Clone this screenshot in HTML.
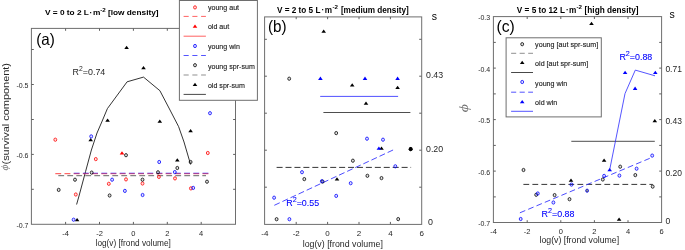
<!DOCTYPE html>
<html lang="en"><head><meta charset="utf-8"><title>Figure</title>
<style>
html,body{margin:0;padding:0;background:#fff}
body{width:685px;height:250px;overflow:hidden}
svg{display:block;filter:blur(0.3px);font-family:"Liberation Sans",sans-serif}
</style></head><body>
<svg width="685" height="250" viewBox="0 0 685 250">
<rect x="0" y="0" width="685" height="250" fill="#ffffff"/>
<rect x="31.4" y="28.4" width="204.1" height="195.9" fill="none" stroke="#6e6e6e" stroke-width="1.0"/>
<line x1="65.6" y1="224.3" x2="65.6" y2="221.9" stroke="#606060" stroke-width="1.0"/>
<line x1="65.6" y1="28.4" x2="65.6" y2="30.8" stroke="#606060" stroke-width="1.0"/>
<line x1="99.5" y1="224.3" x2="99.5" y2="221.9" stroke="#606060" stroke-width="1.0"/>
<line x1="99.5" y1="28.4" x2="99.5" y2="30.8" stroke="#606060" stroke-width="1.0"/>
<line x1="133.4" y1="224.3" x2="133.4" y2="221.9" stroke="#606060" stroke-width="1.0"/>
<line x1="133.4" y1="28.4" x2="133.4" y2="30.8" stroke="#606060" stroke-width="1.0"/>
<line x1="167.3" y1="224.3" x2="167.3" y2="221.9" stroke="#606060" stroke-width="1.0"/>
<line x1="167.3" y1="28.4" x2="167.3" y2="30.8" stroke="#606060" stroke-width="1.0"/>
<line x1="201.2" y1="224.3" x2="201.2" y2="221.9" stroke="#606060" stroke-width="1.0"/>
<line x1="201.2" y1="28.4" x2="201.2" y2="30.8" stroke="#606060" stroke-width="1.0"/>
<line x1="31.4" y1="49.5" x2="33.8" y2="49.5" stroke="#606060" stroke-width="1.0"/>
<line x1="235.5" y1="49.5" x2="233.1" y2="49.5" stroke="#606060" stroke-width="1.0"/>
<line x1="31.4" y1="84.5" x2="33.8" y2="84.5" stroke="#606060" stroke-width="1.0"/>
<line x1="235.5" y1="84.5" x2="233.1" y2="84.5" stroke="#606060" stroke-width="1.0"/>
<line x1="31.4" y1="119.5" x2="33.8" y2="119.5" stroke="#606060" stroke-width="1.0"/>
<line x1="235.5" y1="119.5" x2="233.1" y2="119.5" stroke="#606060" stroke-width="1.0"/>
<line x1="31.4" y1="154.4" x2="33.8" y2="154.4" stroke="#606060" stroke-width="1.0"/>
<line x1="235.5" y1="154.4" x2="233.1" y2="154.4" stroke="#606060" stroke-width="1.0"/>
<line x1="31.4" y1="189.3" x2="33.8" y2="189.3" stroke="#606060" stroke-width="1.0"/>
<line x1="235.5" y1="189.3" x2="233.1" y2="189.3" stroke="#606060" stroke-width="1.0"/>
<text x="65.6" y="235.6" font-size="7.5" text-anchor="middle" fill="#262626" font-weight="normal">-4</text>
<text x="99.5" y="235.6" font-size="7.5" text-anchor="middle" fill="#262626" font-weight="normal">-2</text>
<text x="133.4" y="235.6" font-size="7.5" text-anchor="middle" fill="#262626" font-weight="normal">0</text>
<text x="167.3" y="235.6" font-size="7.5" text-anchor="middle" fill="#262626" font-weight="normal">2</text>
<text x="201.2" y="235.6" font-size="7.5" text-anchor="middle" fill="#262626" font-weight="normal">4</text>
<text x="28.5" y="88.0" font-size="7" text-anchor="end" fill="#262626" font-weight="normal">-0.5</text>
<text x="28.5" y="157.9" font-size="7" text-anchor="end" fill="#262626" font-weight="normal">-0.6</text>
<text x="28.5" y="227.8" font-size="7" text-anchor="end" fill="#262626" font-weight="normal">-0.7</text>
<text x="133.2" y="246.3" font-size="8.25" text-anchor="middle" fill="#262626" font-weight="normal">log(v) [frond volume]</text>
<text transform="translate(0,15.3) scale(1,0.92)" y="0" font-size="8.3" font-weight="bold" fill="#000000"><tspan x="44.9">V = 0 to 2 L</tspan><tspan x="89.6">·</tspan><tspan x="92.9">m</tspan><tspan x="100.2" dy="-4.0" font-size="6.2">-2</tspan><tspan x="107.9" dy="4.0">[low density]</tspan></text>
<text transform="translate(36.2,44.5) scale(1,1.1)" font-size="15.2" text-anchor="start" fill="#000000" font-weight="normal">(a)</text>
<text transform="translate(8.7,164.5) rotate(-90)" font-size="9.5" textLength="101.5" lengthAdjust="spacingAndGlyphs" text-anchor="start" fill="#262626">(survival component)</text>
<text transform="translate(5.9,167.6) rotate(-90) scale(1.1,1)" font-size="10.5" text-anchor="middle" fill="#777" font-style="italic" font-family="Liberation Serif, serif" dy="2.4">ϕ</text>
<text transform="translate(72.6,74.7) scale(1,1.05)" font-size="8.9" text-anchor="start" fill="#262626" font-weight="normal">R<tspan font-size="6.8" dy="-3.4">2</tspan><tspan dy="3.4">=0.74</tspan></text>
<polyline points="76.6,204.5 79.0,196.0 85.6,171.4 91.4,150.0 97.0,133.0 102.2,121.0 107.4,108.6 127.1,81.8 143.5,77.1 159.9,90.7 170.0,110.0 178.6,126.6 184.0,142.0 190.6,164.5" fill="none" stroke="#000000" stroke-width="0.8" stroke-linejoin="round"/>
<line x1="55.3" y1="173.7" x2="209.3" y2="173.7" stroke="#ff3030" stroke-width="0.9" stroke-dasharray="5.9 3.3"/>
<line x1="73.7" y1="173.15" x2="209.3" y2="173.15" stroke="#0000ff" stroke-opacity="0.62" stroke-width="0.9" stroke-dasharray="5.9 3.3"/>
<line x1="58.3" y1="175.7" x2="206.0" y2="175.7" stroke="#666666" stroke-width="1.0" stroke-dasharray="5.8 3.2"/>
<path d="M124.30 49.09L128.90 49.09L126.60 45.79Z" fill="#000000"/>
<path d="M141.20 69.19L145.80 69.19L143.50 65.89Z" fill="#000000"/>
<path d="M105.30 121.78L109.90 121.78L107.60 118.48Z" fill="#000000"/>
<path d="M157.50 122.78L162.10 122.78L159.80 119.48Z" fill="#000000"/>
<path d="M188.30 132.19L192.90 132.19L190.60 128.88Z" fill="#000000"/>
<path d="M88.40 141.19L93.00 141.19L90.70 137.88Z" fill="#000000"/>
<path d="M175.00 161.49L179.60 161.49L177.30 158.19Z" fill="#000000"/>
<path d="M74.80 221.19L79.40 221.19L77.10 217.88Z" fill="#000000"/>
<path d="M119.70 154.49L124.30 154.49L122.00 151.19Z" fill="#ff0000"/>
<ellipse cx="55.3" cy="139.7" rx="1.44" ry="1.64" fill="#ff0000" fill-opacity="0.12" stroke="#ff0000" stroke-opacity="0.82" stroke-width="0.95"/>
<ellipse cx="95.8" cy="159.1" rx="1.44" ry="1.64" fill="#ff0000" fill-opacity="0.12" stroke="#ff0000" stroke-opacity="0.82" stroke-width="0.95"/>
<ellipse cx="207.8" cy="153.0" rx="1.44" ry="1.64" fill="#ff0000" fill-opacity="0.12" stroke="#ff0000" stroke-opacity="0.82" stroke-width="0.95"/>
<ellipse cx="126.0" cy="179.4" rx="1.44" ry="1.64" fill="#ff0000" fill-opacity="0.12" stroke="#ff0000" stroke-opacity="0.82" stroke-width="0.95"/>
<ellipse cx="108.8" cy="183.8" rx="1.44" ry="1.64" fill="#ff0000" fill-opacity="0.12" stroke="#ff0000" stroke-opacity="0.82" stroke-width="0.95"/>
<ellipse cx="142.5" cy="183.5" rx="1.44" ry="1.64" fill="#ff0000" fill-opacity="0.12" stroke="#ff0000" stroke-opacity="0.82" stroke-width="0.95"/>
<ellipse cx="75.8" cy="194.5" rx="1.44" ry="1.64" fill="#ff0000" fill-opacity="0.12" stroke="#ff0000" stroke-opacity="0.82" stroke-width="0.95"/>
<ellipse cx="158.9" cy="176.9" rx="1.44" ry="1.64" fill="#ff0000" fill-opacity="0.12" stroke="#ff0000" stroke-opacity="0.82" stroke-width="0.95"/>
<ellipse cx="175.0" cy="178.4" rx="1.44" ry="1.64" fill="#ff0000" fill-opacity="0.12" stroke="#ff0000" stroke-opacity="0.82" stroke-width="0.95"/>
<ellipse cx="190.9" cy="188.4" rx="1.44" ry="1.64" fill="#ff0000" fill-opacity="0.12" stroke="#ff0000" stroke-opacity="0.82" stroke-width="0.95"/>
<ellipse cx="210.0" cy="113.2" rx="1.44" ry="1.64" fill="#0000ff" fill-opacity="0.12" stroke="#0000ff" stroke-opacity="0.82" stroke-width="0.95"/>
<ellipse cx="91.2" cy="136.4" rx="1.44" ry="1.64" fill="#0000ff" fill-opacity="0.12" stroke="#0000ff" stroke-opacity="0.82" stroke-width="0.95"/>
<ellipse cx="159.2" cy="162.0" rx="1.44" ry="1.64" fill="#0000ff" fill-opacity="0.12" stroke="#0000ff" stroke-opacity="0.82" stroke-width="0.95"/>
<ellipse cx="174.8" cy="172.1" rx="1.44" ry="1.64" fill="#0000ff" fill-opacity="0.12" stroke="#0000ff" stroke-opacity="0.82" stroke-width="0.95"/>
<ellipse cx="112.1" cy="179.7" rx="1.44" ry="1.64" fill="#0000ff" fill-opacity="0.12" stroke="#0000ff" stroke-opacity="0.82" stroke-width="0.95"/>
<ellipse cx="124.9" cy="190.9" rx="1.44" ry="1.64" fill="#0000ff" fill-opacity="0.12" stroke="#0000ff" stroke-opacity="0.82" stroke-width="0.95"/>
<ellipse cx="142.6" cy="195.0" rx="1.44" ry="1.64" fill="#0000ff" fill-opacity="0.12" stroke="#0000ff" stroke-opacity="0.82" stroke-width="0.95"/>
<ellipse cx="193.2" cy="187.9" rx="1.44" ry="1.64" fill="#0000ff" fill-opacity="0.12" stroke="#0000ff" stroke-opacity="0.82" stroke-width="0.95"/>
<ellipse cx="73.6" cy="219.7" rx="1.44" ry="1.64" fill="#0000ff" fill-opacity="0.12" stroke="#0000ff" stroke-opacity="0.82" stroke-width="0.95"/>
<ellipse cx="126.0" cy="155.2" rx="1.44" ry="1.64" fill="#000000" fill-opacity="0.12" stroke="#000000" stroke-opacity="0.82" stroke-width="0.95"/>
<ellipse cx="190.6" cy="162.0" rx="1.44" ry="1.64" fill="#000000" fill-opacity="0.12" stroke="#000000" stroke-opacity="0.82" stroke-width="0.95"/>
<ellipse cx="177.3" cy="168.0" rx="1.44" ry="1.64" fill="#000000" fill-opacity="0.12" stroke="#000000" stroke-opacity="0.82" stroke-width="0.95"/>
<ellipse cx="91.7" cy="172.6" rx="1.44" ry="1.64" fill="#000000" fill-opacity="0.12" stroke="#000000" stroke-opacity="0.82" stroke-width="0.95"/>
<ellipse cx="158.0" cy="172.3" rx="1.44" ry="1.64" fill="#000000" fill-opacity="0.12" stroke="#000000" stroke-opacity="0.82" stroke-width="0.95"/>
<ellipse cx="75.0" cy="179.7" rx="1.44" ry="1.64" fill="#000000" fill-opacity="0.12" stroke="#000000" stroke-opacity="0.82" stroke-width="0.95"/>
<ellipse cx="142.5" cy="179.7" rx="1.44" ry="1.64" fill="#000000" fill-opacity="0.12" stroke="#000000" stroke-opacity="0.82" stroke-width="0.95"/>
<ellipse cx="58.7" cy="189.9" rx="1.44" ry="1.64" fill="#000000" fill-opacity="0.12" stroke="#000000" stroke-opacity="0.82" stroke-width="0.95"/>
<ellipse cx="109.6" cy="195.5" rx="1.44" ry="1.64" fill="#000000" fill-opacity="0.12" stroke="#000000" stroke-opacity="0.82" stroke-width="0.95"/>
<ellipse cx="207.0" cy="181.7" rx="1.44" ry="1.64" fill="#000000" fill-opacity="0.12" stroke="#000000" stroke-opacity="0.82" stroke-width="0.95"/>
<rect x="179.4" y="0.5" width="78.0" height="99.8" fill="#ffffff" stroke="#6e6e6e" stroke-width="1.0"/>
<ellipse cx="195.0" cy="7.4" rx="1.44" ry="1.64" fill="#ff0000" fill-opacity="0.12" stroke="#ff0000" stroke-opacity="0.82" stroke-width="0.95"/>
<line x1="183.6" y1="16.4" x2="205.9" y2="16.4" stroke="#ff5a5a" stroke-width="0.95" stroke-dasharray="5.1 3.65"/>
<path d="M192.70 27.68L197.30 27.68L195.00 24.38Z" fill="#ff0000"/>
<line x1="183.6" y1="36.2" x2="205.9" y2="36.2" stroke="#ff5a5a" stroke-width="0.95"/>
<ellipse cx="195.0" cy="46.0" rx="1.44" ry="1.64" fill="#0000ff" fill-opacity="0.12" stroke="#0000ff" stroke-opacity="0.82" stroke-width="0.95"/>
<line x1="183.6" y1="55.5" x2="205.9" y2="55.5" stroke="#4a4aff" stroke-width="0.95" stroke-dasharray="5.1 3.65"/>
<ellipse cx="195.0" cy="65.2" rx="1.44" ry="1.64" fill="#000000" fill-opacity="0.12" stroke="#000000" stroke-opacity="0.82" stroke-width="0.95"/>
<line x1="183.6" y1="75.0" x2="205.9" y2="75.0" stroke="#8a8a8a" stroke-width="0.95" stroke-dasharray="5.1 3.65"/>
<path d="M192.70 86.08L197.30 86.08L195.00 82.78Z" fill="#000000"/>
<line x1="183.6" y1="94.4" x2="205.9" y2="94.4" stroke="#333" stroke-width="0.9"/>
<text transform="translate(207.9,10.3) scale(1,1.1)" font-size="7.1" text-anchor="start" fill="#1a1a1a" font-weight="normal" stroke="#1a1a1a" stroke-width="0.12">young aut</text>
<text transform="translate(207.9,29.4) scale(1,1.1)" font-size="7.1" text-anchor="start" fill="#1a1a1a" font-weight="normal" stroke="#1a1a1a" stroke-width="0.12">old aut</text>
<text transform="translate(207.9,49.0) scale(1,1.1)" font-size="7.1" text-anchor="start" fill="#1a1a1a" font-weight="normal" stroke="#1a1a1a" stroke-width="0.12">young win</text>
<text transform="translate(207.9,68.5) scale(1,1.1)" font-size="7.1" text-anchor="start" fill="#1a1a1a" font-weight="normal" stroke="#1a1a1a" stroke-width="0.12">young spr-sum</text>
<text transform="translate(207.9,87.7) scale(1,1.1)" font-size="7.1" text-anchor="start" fill="#1a1a1a" font-weight="normal" stroke="#1a1a1a" stroke-width="0.12">old spr-sum</text>
<rect x="264.6" y="16.9" width="157.1" height="207.5" fill="none" stroke="#6e6e6e" stroke-width="1.0"/>
<line x1="296.2" y1="224.3" x2="296.2" y2="221.9" stroke="#606060" stroke-width="1.0"/>
<line x1="296.2" y1="16.9" x2="296.2" y2="19.2" stroke="#606060" stroke-width="1.0"/>
<line x1="327.6" y1="224.3" x2="327.6" y2="221.9" stroke="#606060" stroke-width="1.0"/>
<line x1="327.6" y1="16.9" x2="327.6" y2="19.2" stroke="#606060" stroke-width="1.0"/>
<line x1="359.0" y1="224.3" x2="359.0" y2="221.9" stroke="#606060" stroke-width="1.0"/>
<line x1="359.0" y1="16.9" x2="359.0" y2="19.2" stroke="#606060" stroke-width="1.0"/>
<line x1="390.4" y1="224.3" x2="390.4" y2="221.9" stroke="#606060" stroke-width="1.0"/>
<line x1="390.4" y1="16.9" x2="390.4" y2="19.2" stroke="#606060" stroke-width="1.0"/>
<line x1="264.6" y1="39.3" x2="266.9" y2="39.3" stroke="#606060" stroke-width="1.0"/>
<line x1="421.6" y1="39.3" x2="419.2" y2="39.3" stroke="#606060" stroke-width="1.0"/>
<line x1="264.6" y1="76.2" x2="266.9" y2="76.2" stroke="#606060" stroke-width="1.0"/>
<line x1="421.6" y1="76.2" x2="419.2" y2="76.2" stroke="#606060" stroke-width="1.0"/>
<line x1="264.6" y1="113.2" x2="266.9" y2="113.2" stroke="#606060" stroke-width="1.0"/>
<line x1="421.6" y1="113.2" x2="419.2" y2="113.2" stroke="#606060" stroke-width="1.0"/>
<line x1="264.6" y1="150.2" x2="266.9" y2="150.2" stroke="#606060" stroke-width="1.0"/>
<line x1="421.6" y1="150.2" x2="419.2" y2="150.2" stroke="#606060" stroke-width="1.0"/>
<line x1="264.6" y1="187.2" x2="266.9" y2="187.2" stroke="#606060" stroke-width="1.0"/>
<line x1="421.6" y1="187.2" x2="419.2" y2="187.2" stroke="#606060" stroke-width="1.0"/>
<text x="264.8" y="235.6" font-size="8" text-anchor="middle" fill="#262626" font-weight="normal">-4</text>
<text x="296.2" y="235.6" font-size="8" text-anchor="middle" fill="#262626" font-weight="normal">-2</text>
<text x="327.6" y="235.6" font-size="8" text-anchor="middle" fill="#262626" font-weight="normal">0</text>
<text x="359.0" y="235.6" font-size="8" text-anchor="middle" fill="#262626" font-weight="normal">2</text>
<text x="390.4" y="235.6" font-size="8" text-anchor="middle" fill="#262626" font-weight="normal">4</text>
<text x="421.8" y="235.6" font-size="8" text-anchor="middle" fill="#262626" font-weight="normal">6</text>
<text x="342.8" y="247.4" font-size="8.8" text-anchor="middle" fill="#262626" font-weight="normal">log(v) [frond volume]</text>
<text y="13.2" font-size="8.2" font-weight="bold" fill="#000000"><tspan x="277.0">V = 2 to 5 L</tspan><tspan x="321.6">·</tspan><tspan x="324.7">m</tspan><tspan x="332.4" dy="-4.0" font-size="6.2">-2</tspan><tspan x="340.9" dy="4.0">[medium density]</tspan></text>
<text transform="translate(268.0,31.9) scale(1,1.13)" font-size="15.2" text-anchor="start" fill="#000000" font-weight="normal">(b)</text>
<text x="434.3" y="19.8" font-size="10.5" text-anchor="middle" fill="#000000" font-weight="normal">s</text>
<text transform="translate(426.0,77.6) scale(1,1.06)" font-size="8.8" text-anchor="start" fill="#262626" font-weight="normal">0.43</text>
<text transform="translate(426.0,151.9) scale(1,1.06)" font-size="8.8" text-anchor="start" fill="#262626" font-weight="normal">0.20</text>
<text transform="translate(428.1,225.2) scale(1,1.04)" font-size="8.9" text-anchor="start" fill="#262626" font-weight="normal">0</text>
<line x1="320.2" y1="96.4" x2="398.1" y2="96.4" stroke="#3c3cff" stroke-width="0.9"/>
<line x1="323.4" y1="112.5" x2="410.4" y2="112.5" stroke="#3a3a3a" stroke-width="0.9"/>
<line x1="276.6" y1="167.4" x2="411.1" y2="167.4" stroke="#2a2a2a" stroke-width="0.95" stroke-dasharray="6 2.93"/>
<line x1="274.3" y1="205.3" x2="395.0" y2="149.1" stroke="#2a2aff" stroke-width="0.85" stroke-dasharray="6 2.93"/>
<text transform="translate(286.2,206.1) scale(1,1.08)" font-size="8.9" text-anchor="start" fill="#0000ff" font-weight="normal" stroke="#0000ff" stroke-width="0.08">R<tspan font-size="7.2" dy="-3.4">2</tspan><tspan dy="3.4">=0.55</tspan></text>
<path d="M321.40 32.69L326.00 32.69L323.70 29.38Z" fill="#000000"/>
<path d="M349.90 86.58L354.50 86.58L352.20 83.28Z" fill="#000000"/>
<path d="M395.30 89.08L399.90 89.08L397.60 85.78Z" fill="#000000"/>
<path d="M363.70 104.69L368.30 104.69L366.00 101.39Z" fill="#000000"/>
<path d="M334.70 180.59L339.30 180.59L337.00 177.28Z" fill="#000000"/>
<path d="M379.20 149.69L383.80 149.69L381.50 146.38Z" fill="#000000"/>
<path d="M408.30 149.99L412.90 149.99L410.60 146.69Z" fill="#000000"/>
<circle cx="410.7" cy="149.0" r="1.9" fill="#000"/>
<path d="M318.10 79.89L322.70 79.89L320.40 76.59Z" fill="#0000ff"/>
<path d="M362.70 79.89L367.30 79.89L365.00 76.59Z" fill="#0000ff"/>
<path d="M395.30 79.89L399.90 79.89L397.60 76.59Z" fill="#0000ff"/>
<path d="M376.60 149.69L381.20 149.69L378.90 146.38Z" fill="#0000ff"/>
<ellipse cx="289.2" cy="78.7" rx="1.44" ry="1.64" fill="#000000" fill-opacity="0.12" stroke="#000000" stroke-opacity="0.82" stroke-width="0.95"/>
<ellipse cx="336.2" cy="133.1" rx="1.44" ry="1.64" fill="#000000" fill-opacity="0.12" stroke="#000000" stroke-opacity="0.82" stroke-width="0.95"/>
<ellipse cx="352.9" cy="160.7" rx="1.44" ry="1.64" fill="#000000" fill-opacity="0.12" stroke="#000000" stroke-opacity="0.82" stroke-width="0.95"/>
<ellipse cx="304.3" cy="179.1" rx="1.44" ry="1.64" fill="#000000" fill-opacity="0.12" stroke="#000000" stroke-opacity="0.82" stroke-width="0.95"/>
<ellipse cx="322.6" cy="181.6" rx="1.44" ry="1.64" fill="#000000" fill-opacity="0.12" stroke="#000000" stroke-opacity="0.82" stroke-width="0.95"/>
<ellipse cx="367.4" cy="175.8" rx="1.44" ry="1.64" fill="#000000" fill-opacity="0.12" stroke="#000000" stroke-opacity="0.82" stroke-width="0.95"/>
<ellipse cx="381.5" cy="178.1" rx="1.44" ry="1.64" fill="#000000" fill-opacity="0.12" stroke="#000000" stroke-opacity="0.82" stroke-width="0.95"/>
<ellipse cx="276.6" cy="219.2" rx="1.44" ry="1.64" fill="#000000" fill-opacity="0.12" stroke="#000000" stroke-opacity="0.82" stroke-width="0.95"/>
<ellipse cx="398.2" cy="219.1" rx="1.44" ry="1.64" fill="#000000" fill-opacity="0.12" stroke="#000000" stroke-opacity="0.82" stroke-width="0.95"/>
<ellipse cx="410.6" cy="149.2" rx="1.44" ry="1.64" fill="#000000" fill-opacity="0.12" stroke="#000000" stroke-opacity="0.82" stroke-width="0.95"/>
<ellipse cx="367.0" cy="138.7" rx="1.44" ry="1.64" fill="#0000ff" fill-opacity="0.12" stroke="#0000ff" stroke-opacity="0.82" stroke-width="0.95"/>
<ellipse cx="383.0" cy="139.7" rx="1.44" ry="1.64" fill="#0000ff" fill-opacity="0.12" stroke="#0000ff" stroke-opacity="0.82" stroke-width="0.95"/>
<ellipse cx="395.3" cy="166.3" rx="1.44" ry="1.64" fill="#0000ff" fill-opacity="0.12" stroke="#0000ff" stroke-opacity="0.82" stroke-width="0.95"/>
<ellipse cx="302.0" cy="172.2" rx="1.44" ry="1.64" fill="#0000ff" fill-opacity="0.12" stroke="#0000ff" stroke-opacity="0.82" stroke-width="0.95"/>
<ellipse cx="321.8" cy="181.2" rx="1.44" ry="1.64" fill="#0000ff" fill-opacity="0.12" stroke="#0000ff" stroke-opacity="0.82" stroke-width="0.95"/>
<ellipse cx="350.7" cy="183.2" rx="1.44" ry="1.64" fill="#0000ff" fill-opacity="0.12" stroke="#0000ff" stroke-opacity="0.82" stroke-width="0.95"/>
<ellipse cx="274.1" cy="197.7" rx="1.44" ry="1.64" fill="#0000ff" fill-opacity="0.12" stroke="#0000ff" stroke-opacity="0.82" stroke-width="0.95"/>
<ellipse cx="336.2" cy="195.9" rx="1.44" ry="1.64" fill="#0000ff" fill-opacity="0.12" stroke="#0000ff" stroke-opacity="0.82" stroke-width="0.95"/>
<ellipse cx="289.4" cy="219.2" rx="1.44" ry="1.64" fill="#0000ff" fill-opacity="0.12" stroke="#0000ff" stroke-opacity="0.82" stroke-width="0.95"/>
<rect x="493.4" y="16.6" width="168.2" height="205.9" fill="none" stroke="#6e6e6e" stroke-width="1.0"/>
<line x1="527.2" y1="222.6" x2="527.2" y2="220.2" stroke="#606060" stroke-width="1.0"/>
<line x1="527.2" y1="16.6" x2="527.2" y2="19.0" stroke="#606060" stroke-width="1.0"/>
<line x1="560.8" y1="222.6" x2="560.8" y2="220.2" stroke="#606060" stroke-width="1.0"/>
<line x1="560.8" y1="16.6" x2="560.8" y2="19.0" stroke="#606060" stroke-width="1.0"/>
<line x1="594.4" y1="222.6" x2="594.4" y2="220.2" stroke="#606060" stroke-width="1.0"/>
<line x1="594.4" y1="16.6" x2="594.4" y2="19.0" stroke="#606060" stroke-width="1.0"/>
<line x1="628.0" y1="222.6" x2="628.0" y2="220.2" stroke="#606060" stroke-width="1.0"/>
<line x1="628.0" y1="16.6" x2="628.0" y2="19.0" stroke="#606060" stroke-width="1.0"/>
<line x1="493.4" y1="42.4" x2="495.8" y2="42.4" stroke="#606060" stroke-width="1.0"/>
<line x1="661.6" y1="42.4" x2="659.2" y2="42.4" stroke="#606060" stroke-width="1.0"/>
<line x1="493.4" y1="68.1" x2="495.8" y2="68.1" stroke="#606060" stroke-width="1.0"/>
<line x1="661.6" y1="68.1" x2="659.2" y2="68.1" stroke="#606060" stroke-width="1.0"/>
<line x1="493.4" y1="93.9" x2="495.8" y2="93.9" stroke="#606060" stroke-width="1.0"/>
<line x1="661.6" y1="93.9" x2="659.2" y2="93.9" stroke="#606060" stroke-width="1.0"/>
<line x1="493.4" y1="119.6" x2="495.8" y2="119.6" stroke="#606060" stroke-width="1.0"/>
<line x1="661.6" y1="119.6" x2="659.2" y2="119.6" stroke="#606060" stroke-width="1.0"/>
<line x1="493.4" y1="145.4" x2="495.8" y2="145.4" stroke="#606060" stroke-width="1.0"/>
<line x1="661.6" y1="145.4" x2="659.2" y2="145.4" stroke="#606060" stroke-width="1.0"/>
<line x1="493.4" y1="171.1" x2="495.8" y2="171.1" stroke="#606060" stroke-width="1.0"/>
<line x1="661.6" y1="171.1" x2="659.2" y2="171.1" stroke="#606060" stroke-width="1.0"/>
<line x1="493.4" y1="196.9" x2="495.8" y2="196.9" stroke="#606060" stroke-width="1.0"/>
<line x1="661.6" y1="196.9" x2="659.2" y2="196.9" stroke="#606060" stroke-width="1.0"/>
<text x="493.6" y="233.8" font-size="7.5" text-anchor="middle" fill="#262626" font-weight="normal">-4</text>
<text x="527.2" y="233.8" font-size="7.5" text-anchor="middle" fill="#262626" font-weight="normal">-2</text>
<text x="560.8" y="233.8" font-size="7.5" text-anchor="middle" fill="#262626" font-weight="normal">0</text>
<text x="594.4" y="233.8" font-size="7.5" text-anchor="middle" fill="#262626" font-weight="normal">2</text>
<text x="628.0" y="233.8" font-size="7.5" text-anchor="middle" fill="#262626" font-weight="normal">4</text>
<text x="661.5" y="233.8" font-size="7.5" text-anchor="middle" fill="#262626" font-weight="normal">6</text>
<text x="490.2" y="20.2" font-size="7" text-anchor="end" fill="#262626" font-weight="normal">-0.3</text>
<text x="490.2" y="71.7" font-size="7" text-anchor="end" fill="#262626" font-weight="normal">-0.4</text>
<text x="490.2" y="123.2" font-size="7" text-anchor="end" fill="#262626" font-weight="normal">-0.5</text>
<text x="490.2" y="174.7" font-size="7" text-anchor="end" fill="#262626" font-weight="normal">-0.6</text>
<text x="490.2" y="226.2" font-size="7" text-anchor="end" fill="#262626" font-weight="normal">-0.7</text>
<text transform="translate(579.3,243.4) scale(1,0.97)" font-size="8.75" text-anchor="middle" fill="#262626" font-weight="normal">log(v) [frond volume]</text>
<text y="13.2" font-size="8.22" font-weight="bold" fill="#000000"><tspan x="516.8">V = 5 to 12 L</tspan><tspan x="565.9">·</tspan><tspan x="568.9">m</tspan><tspan x="576.5" dy="-4.0" font-size="6.2">-2</tspan><tspan x="584.6" dy="4.0">[high density]</tspan></text>
<text transform="translate(496.4,32.2) scale(1,1.1)" font-size="15.7" text-anchor="start" fill="#000000" font-weight="normal">(c)</text>
<text x="672.0" y="17.8" font-size="10.5" text-anchor="middle" fill="#000000" font-weight="normal">s</text>
<text transform="translate(665.4,72.0) scale(1,1.06)" font-size="8.5" text-anchor="start" fill="#262626" font-weight="normal">0.71</text>
<text transform="translate(665.4,123.5) scale(1,1.06)" font-size="8.5" text-anchor="start" fill="#262626" font-weight="normal">0.43</text>
<text transform="translate(665.4,175.5) scale(1,1.06)" font-size="8.5" text-anchor="start" fill="#262626" font-weight="normal">0.20</text>
<text transform="translate(465.0,108.2) rotate(-90) scale(1.06,0.9)" font-size="15" text-anchor="middle" fill="#707070" font-style="italic" font-family="Liberation Serif, serif" dy="3.4">ϕ</text>
<line x1="571.3" y1="141.3" x2="654.8" y2="141.3" stroke="#3a3a3a" stroke-width="0.9"/>
<line x1="523.4" y1="184.4" x2="652.7" y2="184.4" stroke="#2a2a2a" stroke-width="0.95" stroke-dasharray="5.8 3.2"/>
<line x1="519.9" y1="212.8" x2="652.7" y2="157.1" stroke="#2a2aff" stroke-width="0.85" stroke-dasharray="5.8 3.2"/>
<polyline points="609.8,169.2 625.0,93.6 635.3,70.1 655.0,75.8" fill="none" stroke="#2a2aff" stroke-width="0.8" stroke-linejoin="round"/>
<text transform="translate(619.4,59.6) scale(1,1.1)" font-size="8.9" text-anchor="start" fill="#0000ff" font-weight="normal" stroke="#0000ff" stroke-width="0.08">R<tspan font-size="7.2" dy="-3.4">2</tspan><tspan dy="3.4">=0.88</tspan></text>
<text transform="translate(541.6,217.2) scale(1,1.1)" font-size="8.9" text-anchor="start" fill="#0000ff" font-weight="normal" stroke="#0000ff" stroke-width="0.08">R<tspan font-size="7.2" dy="-3.4">2</tspan><tspan dy="3.4">=0.88</tspan></text>
<text transform="translate(665.6,223.9) scale(1,1.04)" font-size="8.6" text-anchor="start" fill="#262626" font-weight="normal">0</text>
<path d="M589.20 25.09L593.80 25.09L591.50 21.79Z" fill="#000000"/>
<path d="M652.50 122.28L657.10 122.28L654.80 118.98Z" fill="#000000"/>
<path d="M601.80 161.79L606.40 161.79L604.10 158.49Z" fill="#000000"/>
<path d="M568.70 181.69L573.30 181.69L571.00 178.38Z" fill="#000000"/>
<path d="M616.80 220.79L621.40 220.79L619.10 217.49Z" fill="#000000"/>
<path d="M622.80 73.98L627.40 73.98L625.10 70.69Z" fill="#0000ff"/>
<path d="M653.00 73.98L657.60 73.98L655.30 70.69Z" fill="#0000ff"/>
<path d="M632.80 89.89L637.40 89.89L635.10 86.59Z" fill="#0000ff"/>
<path d="M607.40 171.19L612.00 171.19L609.70 167.88Z" fill="#0000ff"/>
<ellipse cx="523.5" cy="170.0" rx="1.44" ry="1.64" fill="#000000" fill-opacity="0.12" stroke="#000000" stroke-opacity="0.82" stroke-width="0.95"/>
<ellipse cx="620.2" cy="166.7" rx="1.44" ry="1.64" fill="#000000" fill-opacity="0.12" stroke="#000000" stroke-opacity="0.82" stroke-width="0.95"/>
<ellipse cx="635.3" cy="175.1" rx="1.44" ry="1.64" fill="#000000" fill-opacity="0.12" stroke="#000000" stroke-opacity="0.82" stroke-width="0.95"/>
<ellipse cx="602.8" cy="179.5" rx="1.44" ry="1.64" fill="#000000" fill-opacity="0.12" stroke="#000000" stroke-opacity="0.82" stroke-width="0.95"/>
<ellipse cx="652.7" cy="186.6" rx="1.44" ry="1.64" fill="#000000" fill-opacity="0.12" stroke="#000000" stroke-opacity="0.82" stroke-width="0.95"/>
<ellipse cx="554.6" cy="195.1" rx="1.44" ry="1.64" fill="#000000" fill-opacity="0.12" stroke="#000000" stroke-opacity="0.82" stroke-width="0.95"/>
<ellipse cx="569.5" cy="199.2" rx="1.44" ry="1.64" fill="#000000" fill-opacity="0.12" stroke="#000000" stroke-opacity="0.82" stroke-width="0.95"/>
<ellipse cx="536.2" cy="194.8" rx="1.44" ry="1.64" fill="#000000" fill-opacity="0.12" stroke="#000000" stroke-opacity="0.82" stroke-width="0.95"/>
<ellipse cx="652.2" cy="155.6" rx="1.44" ry="1.64" fill="#0000ff" fill-opacity="0.12" stroke="#0000ff" stroke-opacity="0.82" stroke-width="0.95"/>
<ellipse cx="636.6" cy="168.7" rx="1.44" ry="1.64" fill="#0000ff" fill-opacity="0.12" stroke="#0000ff" stroke-opacity="0.82" stroke-width="0.95"/>
<ellipse cx="619.4" cy="175.6" rx="1.44" ry="1.64" fill="#0000ff" fill-opacity="0.12" stroke="#0000ff" stroke-opacity="0.82" stroke-width="0.95"/>
<ellipse cx="604.1" cy="175.9" rx="1.44" ry="1.64" fill="#0000ff" fill-opacity="0.12" stroke="#0000ff" stroke-opacity="0.82" stroke-width="0.95"/>
<ellipse cx="571.5" cy="184.6" rx="1.44" ry="1.64" fill="#0000ff" fill-opacity="0.12" stroke="#0000ff" stroke-opacity="0.82" stroke-width="0.95"/>
<ellipse cx="587.1" cy="190.7" rx="1.44" ry="1.64" fill="#0000ff" fill-opacity="0.12" stroke="#0000ff" stroke-opacity="0.82" stroke-width="0.95"/>
<ellipse cx="553.4" cy="202.5" rx="1.44" ry="1.64" fill="#0000ff" fill-opacity="0.12" stroke="#0000ff" stroke-opacity="0.82" stroke-width="0.95"/>
<ellipse cx="537.8" cy="193.5" rx="1.44" ry="1.64" fill="#0000ff" fill-opacity="0.12" stroke="#0000ff" stroke-opacity="0.82" stroke-width="0.95"/>
<ellipse cx="520.7" cy="219.0" rx="1.44" ry="1.64" fill="#0000ff" fill-opacity="0.12" stroke="#0000ff" stroke-opacity="0.82" stroke-width="0.95"/>
<ellipse cx="587.1" cy="190.7" rx="0.93" ry="1.06" fill="#000000" fill-opacity="0.12" stroke="#000000" stroke-opacity="0.82" stroke-width="0.5"/>
<rect x="506.1" y="37.8" width="95.2" height="79.1" fill="#ffffff" stroke="#6e6e6e" stroke-width="1.0"/>
<ellipse cx="522.2" cy="44.2" rx="1.44" ry="1.64" fill="#000000" fill-opacity="0.12" stroke="#000000" stroke-opacity="0.82" stroke-width="0.95"/>
<line x1="511.1" y1="53.3" x2="533.0" y2="53.3" stroke="#8a8a8a" stroke-width="0.95" stroke-dasharray="5.1 3.45"/>
<path d="M519.90 64.09L524.50 64.09L522.20 60.79Z" fill="#000000"/>
<line x1="511.1" y1="72.5" x2="533.0" y2="72.5" stroke="#333" stroke-width="0.9"/>
<ellipse cx="522.2" cy="82.0" rx="1.44" ry="1.64" fill="#0000ff" fill-opacity="0.12" stroke="#0000ff" stroke-opacity="0.82" stroke-width="0.95"/>
<line x1="511.1" y1="92.2" x2="533.0" y2="92.2" stroke="#4a4aff" stroke-width="0.95" stroke-dasharray="5.1 3.45"/>
<path d="M519.90 103.19L524.50 103.19L522.20 99.89Z" fill="#0000ff"/>
<line x1="511.1" y1="111.3" x2="533.0" y2="111.3" stroke="#4a4aff" stroke-width="0.95"/>
<text transform="translate(535.1,46.9) scale(1,1.1)" font-size="7.15" text-anchor="start" fill="#1a1a1a" font-weight="normal" stroke="#1a1a1a" stroke-width="0.12">young [aut spr-sum]</text>
<text transform="translate(535.1,65.9) scale(1,1.1)" font-size="7.15" text-anchor="start" fill="#1a1a1a" font-weight="normal" stroke="#1a1a1a" stroke-width="0.12">old [aut spr-sum]</text>
<text transform="translate(535.1,85.8) scale(1,1.1)" font-size="7.15" text-anchor="start" fill="#1a1a1a" font-weight="normal" stroke="#1a1a1a" stroke-width="0.12">young win</text>
<text transform="translate(535.1,104.7) scale(1,1.1)" font-size="7.15" text-anchor="start" fill="#1a1a1a" font-weight="normal" stroke="#1a1a1a" stroke-width="0.12">old win</text>
</svg>
</body></html>
